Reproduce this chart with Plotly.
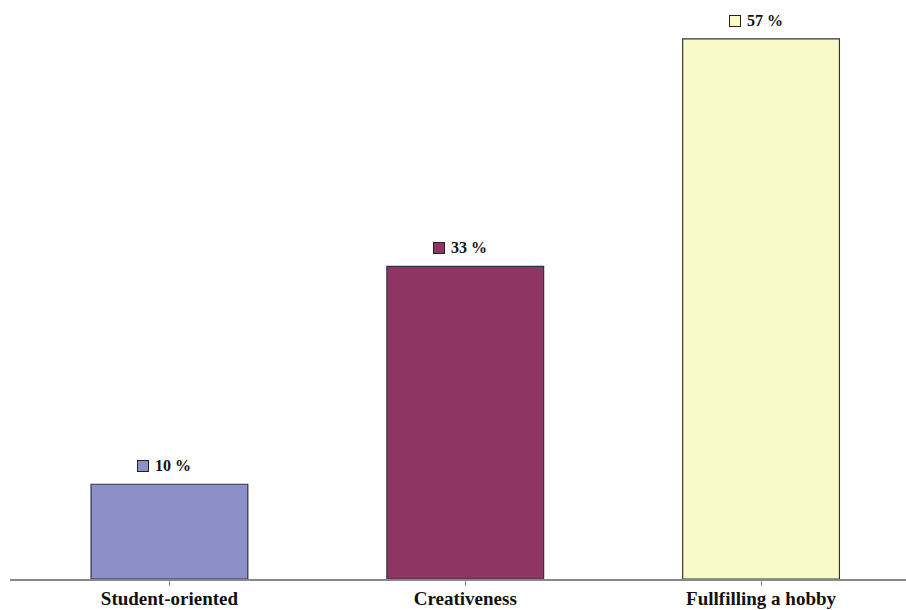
import plotly.graph_objects as go

categories = ["Student-oriented", "Creativeness", "Fullfilling a hobby"]
values = [10, 33, 57]
colors = ["#8C8FC8", "#8E3564", "#FAFAC8"]

positions = list(range(len(categories)))

fig = go.Figure()
fig.add_trace(go.Bar(
    x=positions,
    y=values,
    width=0.53,
    marker=dict(color=colors, line=dict(color="#333344", width=1.2)),
    showlegend=False,
    hoverinfo="skip",
))

# value labels with a small colour key to the left of each
for pos, val, col in zip(positions, values, colors):
    fig.add_annotation(
        x=pos, y=val, xref="x", yref="y",
        text="", width=10, height=10,
        bgcolor=col, bordercolor="#222222", borderwidth=1,
        showarrow=False, xanchor="center", yanchor="bottom",
        xshift=-26, yshift=12, borderpad=0,
    )
    fig.add_annotation(
        x=pos, y=val, xref="x", yref="y",
        text=f"<b>{val} %</b>",
        font=dict(family="Liberation Serif", size=16, color="#111111"),
        showarrow=False, xanchor="left", yanchor="bottom",
        xshift=-16, yshift=8,
    )

fig.update_layout(
    width=906, height=610,
    margin=dict(l=10, r=0, t=0, b=31),
    paper_bgcolor="white", plot_bgcolor="white",
    bargap=0.47,
)
fig.update_xaxes(
    range=[-0.539, 2.49],
    tickvals=positions,
    ticktext=[f"<b>{c}</b>" for c in categories],
    tickfont=dict(family="Liberation Serif", size=19, color="#111111"),
    showline=True, linecolor="#888888", linewidth=2,
    ticks="outside", ticklen=5, tickcolor="#888888",
    ticklabelstandoff=-4,
    showgrid=False, zeroline=False, automargin=False,
)
fig.update_yaxes(
    range=[0, 61.1],
    visible=False, showgrid=False, zeroline=False,
)

fig.write_html("out.html")
